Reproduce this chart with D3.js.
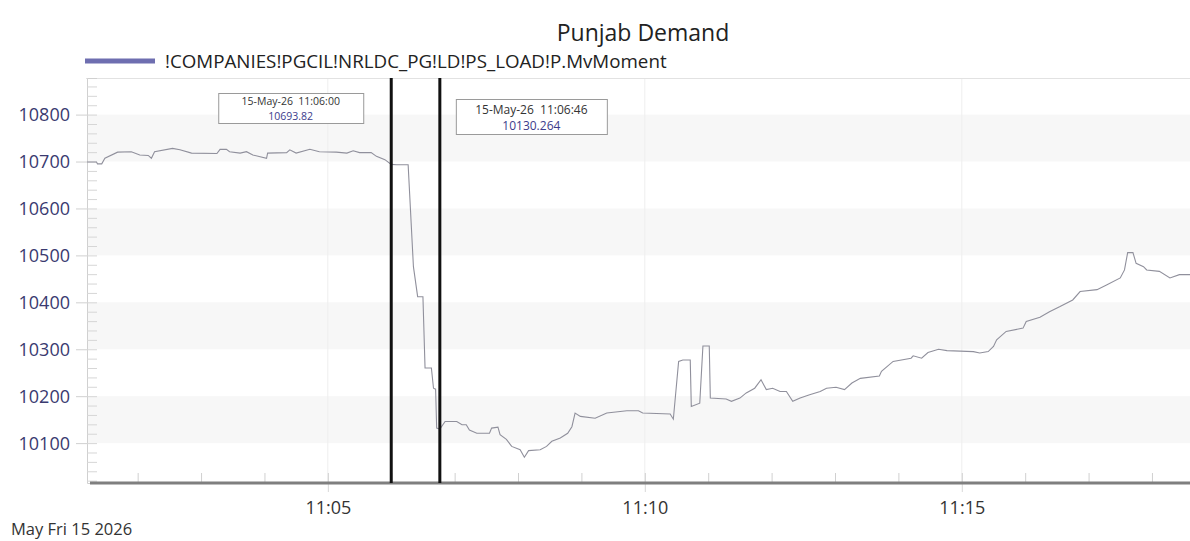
<!DOCTYPE html>
<html>
<head>
<meta charset="utf-8">
<script src="https://cdn.jsdelivr.net/npm/d3@7"></script>
<style>
  html, body { margin: 0; padding: 0; background: #ffffff; }
  svg { display: block; font-family: "Open Sans", "Noto Sans", sans-serif; }
</style>
</head>
<body>
<svg id="chart" width="1190" height="541"></svg>
<script>
// ---- data ----
const chartTitle = "Punjab Demand";
const seriesName = "!COMPANIES!PGCIL!NRLDC_PG!LD!PS_LOAD!P.MvMoment";
const dateLabel = "May Fri 15 2026";
const times = [
  "11:01:12","11:01:21","11:01:22","11:01:26","11:01:29","11:01:41","11:01:54","11:02:02","11:02:10","11:02:13",
  "11:02:16","11:02:33","11:02:40","11:02:51","11:03:15","11:03:18","11:03:24","11:03:27","11:03:37","11:03:43",
  "11:03:49","11:04:02","11:04:03","11:04:21","11:04:24","11:04:30","11:04:43","11:04:52","11:05:08","11:05:18",
  "11:05:24","11:05:30","11:05:41","11:05:46","11:05:54","11:06:00","11:06:05","11:06:16","11:06:21","11:06:25",
  "11:06:30","11:06:32","11:06:38","11:06:40","11:06:42","11:06:43","11:06:46","11:06:51","11:07:02","11:07:07",
  "11:07:11","11:07:14","11:07:21","11:07:33","11:07:35","11:07:41","11:07:43","11:07:49","11:07:54","11:08:02",
  "11:08:06","11:08:10","11:08:21","11:08:27","11:08:32","11:08:40","11:08:47","11:08:51","11:08:54","11:08:59",
  "11:09:13","11:09:24","11:09:43","11:09:54","11:09:58","11:10:24","11:10:27","11:10:32","11:10:36","11:10:43",
  "11:10:44","11:10:52","11:10:55","11:11:01","11:11:02","11:11:17","11:11:22","11:11:30","11:11:36","11:11:44",
  "11:11:50","11:11:55","11:12:01","11:12:08","11:12:14","11:12:20","11:12:27","11:12:36","11:12:46","11:12:52",
  "11:13:01","11:13:09","11:13:16","11:13:24","11:13:42","11:13:44","11:13:55","11:14:12","11:14:14","11:14:22",
  "11:14:28","11:14:38","11:14:46","11:15:11","11:15:17","11:15:25","11:15:30","11:15:33","11:15:42","11:15:58",
  "11:16:01","11:16:14","11:16:23","11:16:33","11:16:45","11:16:52","11:17:08","11:17:17","11:17:30","11:17:34",
  "11:17:37","11:17:42","11:17:45","11:17:52","11:17:55","11:18:07","11:18:17","11:18:26","11:18:36"
];
const values = [
  10699,10699,10695,10695,10707,10720,10721,10714,10713,10707,
  10721,10728,10725,10718,10717,10726,10726,10721,10718,10721,
  10714,10707,10718,10719,10725,10718,10726,10721,10720,10718,
  10723,10719,10719,10711,10704,10694,10693,10693,10476,10412,
  10412,10260,10260,10217,10215,10132,10130,10146,10146,10139,
  10139,10128,10121,10121,10132,10134,10118,10108,10093,10086,
  10070,10084,10086,10093,10104,10111,10121,10135,10164,10157,
  10153,10164,10169,10169,10164,10162,10151,10274,10277,10277,
  10178,10185,10307,10307,10196,10194,10189,10196,10207,10217,
  10235,10214,10217,10210,10210,10189,10196,10203,10210,10217,
  10219,10214,10228,10238,10243,10253,10274,10281,10286,10281,
  10293,10300,10297,10295,10292,10295,10306,10320,10338,10345,
  10359,10368,10380,10391,10405,10423,10427,10437,10452,10469,
  10506,10506,10483,10476,10469,10466,10452,10459,10459
];
const timeDomain = ["11:01:13", "11:18:36"];
const valueDomain = [10015, 10878];
const yTickValues = [10100, 10200, 10300, 10400, 10500, 10600, 10700, 10800];
const xTickLabels = ["11:05", "11:10", "11:15"];
const markerTimes = ["11:06:00", "11:06:46"];
const markerDates = ["15-May-26", "15-May-26"];
const markerValues = ["10693.82", "10130.264"];

// ---- layout ----
const plot = { left: 88, right: 1190, top: 78, bottom: 483 };
const parseT = d3.timeParse("%H:%M:%S");
const parseHM = d3.timeParse("%H:%M");
const svg = d3.select("#chart");

const x = d3.scaleTime().domain(timeDomain.map(parseT)).range([plot.left, plot.right]);
const y = d3.scaleLinear().domain(valueDomain).range([plot.bottom, plot.top]);

const data = times.map((t, i) => ({ t: parseT(t), v: values[i] }));

// alternating bands
const bandPairs = [[10100, 10200], [10300, 10400], [10500, 10600], [10700, 10800]];
svg.append("g").selectAll("rect").data(bandPairs).join("rect")
  .attr("x", plot.left).attr("width", plot.right - plot.left)
  .attr("y", d => y(d[1])).attr("height", d => y(d[0]) - y(d[1]))
  .attr("fill", "#f7f7f7");

// vertical grid at major x ticks
const majorX = xTickLabels.map(parseHM);
svg.append("g").selectAll("line").data(majorX).join("line")
  .attr("x1", d => x(d)).attr("x2", d => x(d))
  .attr("y1", plot.top).attr("y2", plot.bottom)
  .attr("stroke", "#eeeeee").attr("stroke-width", 1);

// top border
svg.append("line").attr("x1", plot.left - 2).attr("x2", plot.right)
  .attr("y1", plot.top + 0.5).attr("y2", plot.top + 0.5)
  .attr("stroke", "#e2e2e2");

// y axis (minor + major)
const yMinor = d3.range(10020, 10880, 20);
const yAxisMinor = d3.axisRight(y).tickValues(yMinor).tickSize(10).tickFormat("");
const gyMinor = svg.append("g").attr("transform", `translate(${plot.left - 1},0)`).call(yAxisMinor);
gyMinor.select(".domain").attr("stroke", "#d0d0d0");
gyMinor.selectAll(".tick line").attr("stroke", "#d6d6d6");

const yAxis = d3.axisLeft(y).tickValues(yTickValues).tickSize(11).tickPadding(6).tickFormat(d3.format("d"));
const gy = svg.append("g").attr("transform", `translate(${plot.left - 1},0)`).call(yAxis);
gy.select(".domain").remove();
gy.selectAll(".tick line").attr("stroke", "#d0d0d0");
gy.selectAll(".tick text").attr("fill", "#3a3a70").attr("font-size", 18)
  .attr("font-family", "'Open Sans', sans-serif").attr("dy", "0.34em");

// x axis minor ticks (every minute)
const xMinor = d3.timeMinute.every(1).range(x.domain()[0], x.domain()[1]);
const xAxisMinor = d3.axisTop(x).tickValues(xMinor).tickSize(10).tickFormat("");
const gxMinor = svg.append("g").attr("transform", `translate(0,${plot.bottom})`).call(xAxisMinor);
gxMinor.select(".domain").remove();
gxMinor.selectAll(".tick line").attr("stroke", "#d0d0d0");

// x axis major
const xAxis = d3.axisBottom(x).tickValues(majorX).tickSize(9).tickPadding(9)
  .tickFormat(d3.timeFormat("%H:%M"));
const gx = svg.append("g").attr("transform", `translate(0,${plot.bottom})`).call(xAxis);
gx.select(".domain").remove();
gx.selectAll(".tick line").attr("stroke", "#d8d8d8");
gx.selectAll(".tick text").attr("fill", "#333333").attr("font-size", 18)
  .attr("font-family", "'Open Sans', sans-serif");

// thick bottom axis line
svg.append("line").attr("x1", plot.left + 2).attr("x2", plot.right)
  .attr("y1", plot.bottom).attr("y2", plot.bottom)
  .attr("stroke", "#7f7f7f").attr("stroke-width", 3);

// series line
const line = d3.line().x(d => x(d.t)).y(d => y(d.v));
svg.append("path").datum(data)
  .attr("d", line).attr("fill", "none")
  .attr("stroke", "#90909c").attr("stroke-width", 1.1);

// markers
const markers = markerTimes.map((t, i) => ({ t: parseT(t), date: markerDates[i], val: markerValues[i], tstr: t }));
svg.append("g").selectAll("line").data(markers).join("line")
  .attr("x1", d => x(d.t)).attr("x2", d => x(d.t))
  .attr("y1", plot.top).attr("y2", plot.bottom)
  .attr("stroke", "#111111").attr("stroke-width", 3);

// annotation boxes
const boxSpecs = [
  { dx: -173, w: 145, top: 93, h: 30, b1: 104.5, b2: 119.5, fs: 10.5 },
  { dx: 16, w: 151, top: 99, h: 35, b1: 114, b2: 130, fs: 12 }
];
const boxG = svg.append("g").selectAll("g").data(markers).join("g");
boxG.append("rect")
  .attr("x", (d, i) => x(d.t) + boxSpecs[i].dx + 0.5)
  .attr("y", (d, i) => boxSpecs[i].top + 0.5)
  .attr("width", (d, i) => boxSpecs[i].w)
  .attr("height", (d, i) => boxSpecs[i].h)
  .attr("fill", "#ffffff").attr("stroke", "#9a9a9a");
boxG.append("text")
  .attr("x", (d, i) => x(d.t) + boxSpecs[i].dx + boxSpecs[i].w / 2)
  .attr("y", (d, i) => boxSpecs[i].b1)
  .attr("text-anchor", "middle").attr("font-size", (d, i) => boxSpecs[i].fs).attr("fill", "#333333")
  .attr("xml:space", "preserve").style("white-space", "pre")
  .text(d => `${d.date}  ${d.tstr}`);
boxG.append("text")
  .attr("x", (d, i) => x(d.t) + boxSpecs[i].dx + boxSpecs[i].w / 2)
  .attr("y", (d, i) => boxSpecs[i].b2)
  .attr("text-anchor", "middle").attr("font-size", (d, i) => boxSpecs[i].fs).attr("fill", "#3c3c8c")
  .text(d => d.val);

// title
svg.append("text").attr("x", 643).attr("y", 41).attr("text-anchor", "middle")
  .attr("font-size", 23).attr("fill", "#222222").text(chartTitle);

// legend
svg.append("line").attr("x1", 85).attr("x2", 155).attr("y1", 61).attr("y2", 61)
  .attr("stroke", "#6e6eb0").attr("stroke-width", 5);
const legText = svg.append("text").attr("x", 165).attr("y", 68)
  .attr("font-size", 17).attr("fill", "#222222").text(seriesName);
const targetLen = 502;
const len = legText.node().getComputedTextLength();
legText.attr("font-size", 17 * targetLen / len);

// date label
svg.append("text").attr("x", 11).attr("y", 535)
  .attr("font-size", 16.5).attr("fill", "#333333").text(dateLabel);
</script>
</body>
</html>
